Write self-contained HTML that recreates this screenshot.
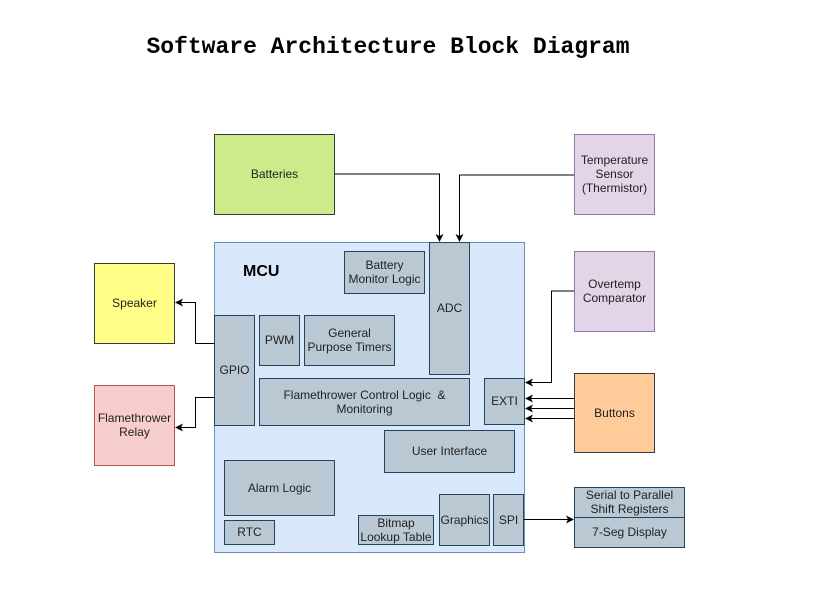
<!DOCTYPE html>
<html><head><style>
body{margin:0;background:#fff;width:824px;height:589px;overflow:hidden;position:relative;font-family:"Liberation Sans",Arial,sans-serif}
.b{position:absolute;box-sizing:border-box;border:1px solid #23445d;background:#bac8d3;display:flex;align-items:center;justify-content:center;text-align:center;font-size:12px;color:#222;line-height:14px;padding-bottom:1px}
</style></head><body>
<div style="position:absolute;left:0;width:776px;top:34px;text-align:center;font-family:'Liberation Mono',monospace;font-weight:bold;font-size:23px;white-space:nowrap">Software Architecture Block Diagram</div>
<div class="b" style="left:214px;top:242px;width:311px;height:311px;background:#dae8fc;border-color:#6c8ebf"></div>
<div style="position:absolute;left:243px;top:263px;font-weight:bold;font-size:16px">MCU</div>
<div class="b" style="left:214px;top:134px;width:121px;height:81px;background:#cdeb8b;border-color:#36393d">Batteries</div>
<div class="b" style="left:574px;top:134px;width:81px;height:81px;background:#e1d5e7;border-color:#9673a6">Temperature<br>Sensor<br>(Thermistor)</div>
<div class="b" style="left:574px;top:251px;width:81px;height:81px;background:#e1d5e7;border-color:#9673a6">Overtemp<br>Comparator</div>
<div class="b" style="left:574px;top:373px;width:81px;height:80px;background:#ffcc99;border-color:#36393d">Buttons</div>
<div class="b" style="left:94px;top:263px;width:81px;height:81px;background:#ffff88;border-color:#36393d">Speaker</div>
<div class="b" style="left:94px;top:385px;width:81px;height:81px;background:#f8cecc;border-color:#b85450">Flamethrower<br>Relay</div>
<div class="b" style="left:574px;top:487px;width:111px;height:31px">Serial to Parallel<br>Shift Registers</div>
<div class="b" style="left:574px;top:517px;width:111px;height:31px">7-Seg Display</div>
<div class="b" style="left:344px;top:251px;width:81px;height:43px">Battery<br>Monitor Logic</div>
<div class="b" style="left:429px;top:242px;width:41px;height:133px">ADC</div>
<div class="b" style="left:214px;top:315px;width:41px;height:111px">GPIO</div>
<div class="b" style="left:259px;top:315px;width:41px;height:51px">PWM</div>
<div class="b" style="left:304px;top:315px;width:91px;height:51px">General<br>Purpose Timers</div>
<div class="b" style="left:259px;top:378px;width:211px;height:48px">Flamethrower Control Logic &nbsp;&amp;<br>Monitoring</div>
<div class="b" style="left:484px;top:378px;width:41px;height:47px">EXTI</div>
<div class="b" style="left:384px;top:430px;width:131px;height:43px">User Interface</div>
<div class="b" style="left:224px;top:460px;width:111px;height:56px">Alarm Logic</div>
<div class="b" style="left:224px;top:520px;width:51px;height:25px">RTC</div>
<div class="b" style="left:358px;top:515px;width:76px;height:30px">Bitmap<br>Lookup Table</div>
<div class="b" style="left:439px;top:494px;width:51px;height:52px">Graphics</div>
<div class="b" style="left:493px;top:494px;width:31px;height:52px">SPI</div>
<svg width="824" height="589" style="position:absolute;left:0;top:0">
<defs><marker id="a" markerWidth="8" markerHeight="8" refX="7" refY="4" orient="auto" markerUnits="userSpaceOnUse"><path d="M0,0L8,4L0,8L2,4z" fill="#000"/></marker></defs>
<g fill="none" stroke="#000" stroke-width="1">
<path d="M335,174H439.5V241" marker-end="url(#a)"/>
<path d="M574,175H459.5V241" marker-end="url(#a)"/>
<path d="M574,291H551.5V382.5H526" marker-end="url(#a)"/>
<path d="M574,398.5H526" marker-end="url(#a)"/>
<path d="M574,408.5H526" marker-end="url(#a)"/>
<path d="M574,418.5H526" marker-end="url(#a)"/>
<path d="M214,343.5H195.5V302.5H176" marker-end="url(#a)"/>
<path d="M214,397.5H195.5V427.5H176" marker-end="url(#a)"/>
<path d="M524,519.5H573" marker-end="url(#a)"/>
</g></svg>
</body></html>
